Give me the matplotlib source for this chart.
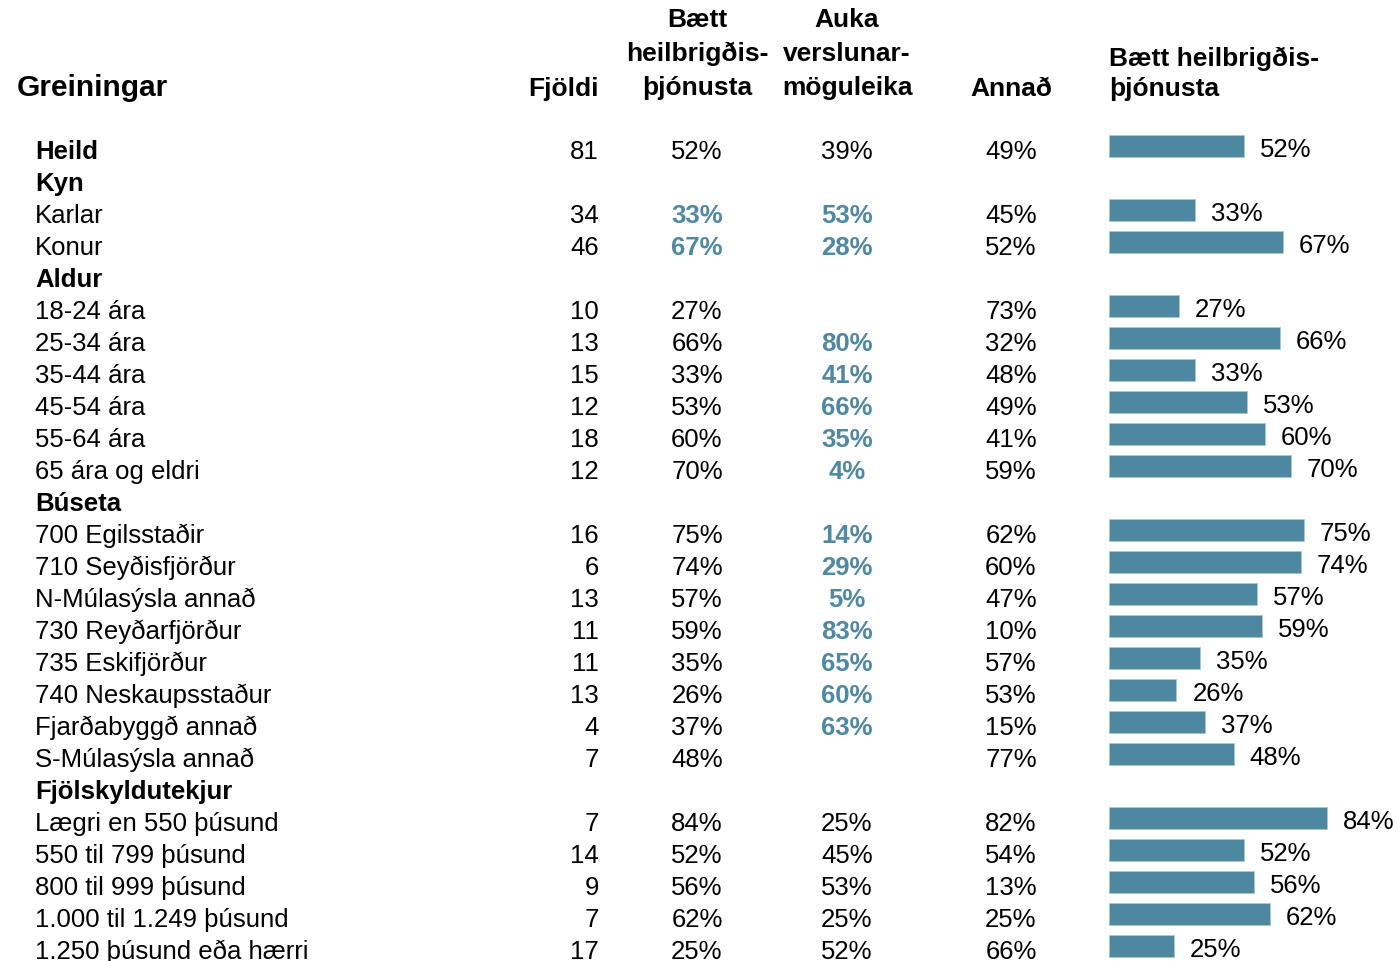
import matplotlib.pyplot as plt

plt.rcParams['font.family'] = ['Liberation Sans', 'DejaVu Sans']

labels = ["Heild", "Kyn", "Karlar", "Konur", "Aldur", "18-24 ára", "25-34 ára", "35-44 ára",
          "45-54 ára", "55-64 ára", "65 ára og eldri", "Búseta", "700 Egilsstaðir",
          "710 Seyðisfjörður", "N-Múlasýsla annað", "730 Reyðarfjörður", "735 Eskifjörður",
          "740 Neskaupsstaður", "Fjarðabyggð annað", "S-Múlasýsla annað", "Fjölskyldutekjur",
          "Lægri en 550 þúsund", "550 til 799 þúsund", "800 til 999 þúsund",
          "1.000 til 1.249 þúsund", "1.250 þúsund eða hærri"]
bold_rows = ["Heild", "Kyn", "Aldur", "Búseta", "Fjölskyldutekjur"]
fjoldi = [81, None, 34, 46, None, 10, 13, 15, 12, 18, 12, None, 16, 6, 13, 11, 11, 13, 4, 7,
          None, 7, 14, 9, 7, 17]
baett = [52, None, 33, 67, None, 27, 66, 33, 53, 60, 70, None, 75, 74, 57, 59, 35, 26, 37, 48,
         None, 84, 52, 56, 62, 25]
auka = [39, None, 53, 28, None, None, 80, 41, 66, 35, 4, None, 14, 29, 5, 83, 65, 60, 63, None,
        None, 25, 45, 53, 25, 52]
annad = [49, None, 45, 52, None, 73, 32, 48, 49, 41, 59, None, 62, 60, 47, 10, 57, 53, 15, 77,
         None, 82, 54, 13, 25, 66]
baett_hl = ["Karlar", "Konur"]
auka_hl = ["Karlar", "Konur", "25-34 ára", "35-44 ára", "45-54 ára", "55-64 ára", "65 ára og eldri",
           "700 Egilsstaðir", "710 Seyðisfjörður", "N-Múlasýsla annað", "730 Reyðarfjörður",
           "735 Eskifjörður", "740 Neskaupsstaður", "Fjarðabyggð annað"]

BAR = "#4e87a0"
HL = "#4f88a2"
FS = 18.5
HFS = 19

fig = plt.figure(figsize=(13.98, 9.61), dpi=100)
ax = fig.add_axes([0, 0, 1, 1])
ax.set_xlim(0, 1398)
ax.set_ylim(961, 0)
ax.axis("off")

# headers
ax.text(17, 96, "Greiningar", fontsize=21.5, fontweight="bold", ha="left", va="baseline")
ax.text(599, 96, "Fjöldi", fontsize=HFS, fontweight="bold", ha="right", va="baseline")
for k, line in enumerate(["Bætt", "heilbrigðis-", "þjónusta"]):
    ax.text(697, 27 + 34 * k, line, fontsize=HFS, fontweight="bold", ha="center", va="baseline")
for k, line in enumerate(["Auka", "verslunar-", "möguleika"]):
    ax.text(847, 27 + 34 * k, line, fontsize=HFS, fontweight="bold", ha="center", va="baseline")
ax.text(1011, 96, "Annað", fontsize=HFS, fontweight="bold", ha="center", va="baseline")
ax.text(1109, 66, "Bætt heilbrigðis-", fontsize=HFS, fontweight="bold", ha="left", va="baseline")
ax.text(1109, 96, "þjónusta", fontsize=HFS, fontweight="bold", ha="left", va="baseline")

# table rows
for i, lab in enumerate(labels):
    yb = 159 + 32 * i
    w = "bold" if lab in bold_rows else "normal"
    ax.text(35, yb, lab, fontsize=FS, fontweight=w, ha="left", va="baseline")
    if fjoldi[i] is not None:
        ax.text(599, yb, str(fjoldi[i]), fontsize=FS, ha="right", va="baseline")
    if baett[i] is not None:
        hl = lab in baett_hl
        ax.text(697, yb, f"{baett[i]}%", fontsize=FS, ha="center", va="baseline",
                color=HL if hl else "black", fontweight="bold" if hl else "normal")
    if auka[i] is not None:
        hl = lab in auka_hl
        ax.text(847, yb, f"{auka[i]}%", fontsize=FS, ha="center", va="baseline",
                color=HL if hl else "black", fontweight="bold" if hl else "normal")
    if annad[i] is not None:
        ax.text(1011, yb, f"{annad[i]}%", fontsize=FS, ha="center", va="baseline")

# bar chart
bx = fig.add_axes([1109 / 1398, 0, 289 / 1398, 1])
bx.set_xlim(0, 289 / 259.5 * 100)
bx.set_ylim((961 - 146) / 32, -146 / 32)
bx.axis("off")
rows = [i for i, v in enumerate(baett) if v is not None]
vals = [baett[i] for i in rows]
bx.barh(rows, vals, height=0.68, color=BAR, edgecolor="#a9c6d4", linewidth=0.6)
for r, v in zip(rows, vals):
    bx.annotate(f"{v}%", (v, r), xytext=(11.5, -7.9), textcoords="offset points",
                fontsize=FS, ha="left", va="baseline")

fig.savefig("out.png", dpi=100)
